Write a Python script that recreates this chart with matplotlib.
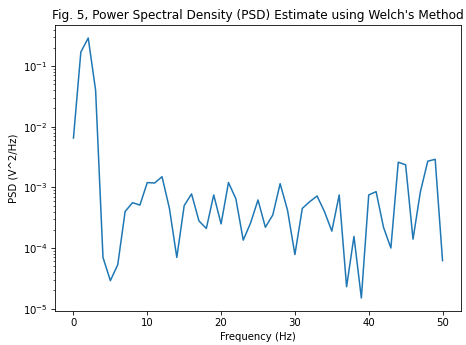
import matplotlib
matplotlib.use("Agg")
import matplotlib.pyplot as plt
import numpy as np

freqs = list(range(0, 51))
psd = [6.5e-3, 0.17, 0.29, 0.04, 7e-5, 2.9e-5, 5.3e-5, 4e-4, 5.6e-4, 5.1e-4,
       1.2e-3, 1.18e-3, 1.5e-3, 4.5e-4, 7e-5, 5e-4, 7.8e-4, 2.8e-4, 2.1e-4, 7.5e-4,
       2.5e-4, 1.2e-3, 6.5e-4, 1.35e-4, 2.6e-4, 6.2e-4, 2.2e-4, 3.5e-4, 1.15e-3, 4.2e-4,
       7.8e-5, 4.5e-4, 5.8e-4, 7.2e-4, 4e-4, 1.9e-4, 7.5e-4, 2.3e-5, 1.55e-4, 1.5e-5,
       7.5e-4, 8.5e-4, 2.2e-4, 1e-4, 2.6e-3, 2.35e-3, 1.4e-4, 8.5e-4, 2.7e-3, 2.9e-3,
       6.2e-5]

DPI = 72.8
fig, ax = plt.subplots(figsize=(466 / DPI, 345 / DPI), dpi=DPI)
ax.semilogy(freqs, psd, color="#1f77b4")
ax.set_title("Fig. 5, Power Spectral Density (PSD) Estimate using Welch's Method")
ax.set_xlabel("Frequency (Hz)")
ax.set_ylabel("PSD (V^2/Hz)")
fig.subplots_adjust(left=55 / 466, right=461 / 466, top=1 - 25 / 345, bottom=1 - 311 / 345)
fig.savefig("out.png", dpi=DPI)
